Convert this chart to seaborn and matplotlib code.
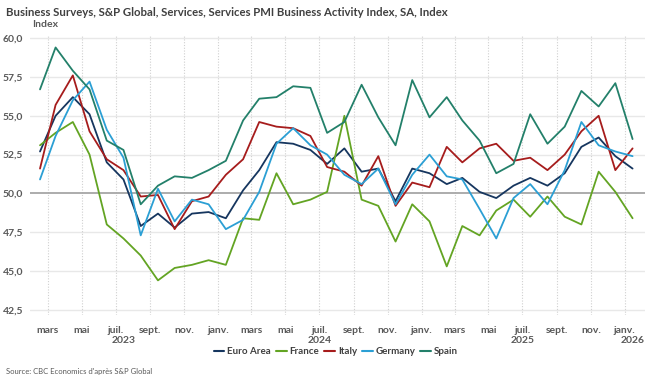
import pandas as pd
import matplotlib
matplotlib.use("Agg")
import matplotlib.pyplot as plt
import seaborn as sns

# Monthly Services PMI, Feb 2023 -> Jan 2026
months = pd.date_range("2023-02-01", periods=36, freq="MS") + pd.Timedelta(days=14)

euro_area = [52.7, 55.0, 56.2, 55.1, 52.0, 50.9, 47.9, 48.7, 47.8, 48.7, 48.8, 48.4,
             50.2, 51.5, 53.3, 53.2, 52.8, 51.9, 52.9, 51.4, 51.6, 49.5, 51.6, 51.3,
             50.6, 51.0, 50.1, 49.7, 50.5, 51.0, 50.5, 51.3, 53.0, 53.6, 52.4, 51.6]
france = [53.1, 53.9, 54.6, 52.5, 48.0, 47.1, 46.0, 44.4, 45.2, 45.4, 45.7, 45.4,
          48.4, 48.3, 51.3, 49.3, 49.6, 50.1, 55.0, 49.6, 49.2, 46.9, 49.3, 48.2,
          45.3, 47.9, 47.3, 48.9, 49.6, 48.5, 49.8, 48.5, 48.0, 51.4, 50.1, 48.4]
italy = [51.6, 55.7, 57.6, 54.0, 52.2, 51.5, 49.8, 49.9, 47.7, 49.5, 49.8, 51.2,
         52.2, 54.6, 54.3, 54.2, 53.7, 51.7, 51.4, 50.5, 52.4, 49.2, 50.7, 50.4,
         53.0, 52.0, 52.9, 53.2, 52.1, 52.3, 51.5, 52.5, 54.0, 55.0, 51.5, 52.9]
germany = [50.9, 53.7, 56.0, 57.2, 54.1, 52.3, 47.3, 50.3, 48.2, 49.6, 49.3, 47.7,
           48.3, 50.1, 53.2, 54.2, 53.1, 52.5, 51.2, 50.6, 51.6, 49.3, 51.2, 52.5,
           51.1, 50.9, 49.0, 47.1, 49.7, 50.6, 49.3, 51.5, 54.6, 53.1, 52.7, 52.4]
spain = [56.7, 59.4, 57.9, 56.7, 53.4, 52.8, 49.3, 50.5, 51.1, 51.0, 51.5, 52.1,
         54.7, 56.1, 56.2, 56.9, 56.8, 53.9, 54.6, 57.0, 54.9, 53.1, 57.3, 54.9,
         56.2, 54.7, 53.4, 51.3, 51.9, 55.1, 53.2, 54.3, 56.6, 55.6, 57.1, 53.5]

series = ["Euro Area", "France", "Italy", "Germany", "Spain"]
colors = ["#16365f", "#63a423", "#a61c1c", "#2b9fd4", "#23806a"]

month_ticks = pd.date_range("2023-03-01", "2026-01-01", freq="2MS")
month_names = {1: "janv.", 3: "mars", 5: "mai", 7: "juil.", 9: "sept.", 11: "nov."}
year_labels = [("2023", "2023-07-15"), ("2024", "2024-07-01"),
               ("2025", "2025-07-01"), ("2026", "2026-01-15")]

df = pd.DataFrame({"date": list(months) * 5,
                   "country": [s for s in series for _ in months],
                   "value": euro_area + france + italy + germany + spain})

sns.set_theme(style="white")
plt.rcParams["font.family"] = ["Lato", "DejaVu Sans"]

fig = plt.figure(figsize=(6.52, 3.85), dpi=100)
ax = fig.add_axes([0.046, 0.183, 0.943, 0.726])

ax.axhline(50, color="#a6a6a6", lw=1.3, zorder=1)
sns.lineplot(data=df, x="date", y="value", hue="country", hue_order=series,
             palette=colors, lw=1.3, ax=ax, legend=False, zorder=3)

ax.set_ylim(42.2, 60.2)
ax.set_xlim(pd.Timestamp("2023-01-28"), pd.Timestamp("2026-02-06"))
yticks = [42.5, 45.0, 47.5, 50.0, 52.5, 55.0, 57.5, 60.0]
ax.set_yticks(yticks)
ax.set_yticklabels([f"{v:.1f}".replace(".", ",") for v in yticks],
                   fontsize=7.5, fontweight="bold", color="#595959")
ax.set_xticks(month_ticks)
ax.set_xticklabels([month_names[d.month] for d in month_ticks],
                   fontsize=7.5, fontweight="bold", color="#595959")
ax.tick_params(axis="both", length=3, color="#bfbfbf", pad=2)
ax.tick_params(axis="x", pad=5)
ax.set_xlabel("")
ax.set_ylabel("")
for sp in ax.spines.values():
    sp.set_visible(False)

for v in yticks:
    if v != 50.0:
        ax.axhline(v, color="#e8e8e8", lw=1.0, zorder=0)
for d in month_ticks:
    ax.axvline(d, color="#d0d0d0", lw=0.8, ls=(0, (1, 1.5)), zorder=0)

for label, d in year_labels:
    ax.text(pd.Timestamp(d), -0.075, label, transform=ax.get_xaxis_transform(),
            ha="center", va="top", fontsize=7.5, fontweight="bold", color="#595959")

handles = [plt.Line2D([], [], color=c, lw=1.5) for c in colors]
fig.legend(handles, series, loc="center", bbox_to_anchor=(0.515, 0.086), ncol=5,
           frameon=False, handlelength=1.1, handletextpad=0.3, columnspacing=0.5,
           prop={"size": 7, "weight": "bold"}, labelcolor="#404040")

fig.text(0.009, 0.968, "Business Surveys, S&P Global, Services, Services PMI Business Activity Index, SA, Index",
         fontsize=8.2, fontweight="bold", color="#404040", va="center")
fig.text(0.05, 0.937, "Index", fontsize=7.5, fontweight="bold", color="#595959", va="center")
fig.text(0.009, 0.034, "Source: CBC Economics d'après S&P Global", fontsize=5.5,
         color="#595959", va="center")

fig.savefig("out.png", dpi=100)
